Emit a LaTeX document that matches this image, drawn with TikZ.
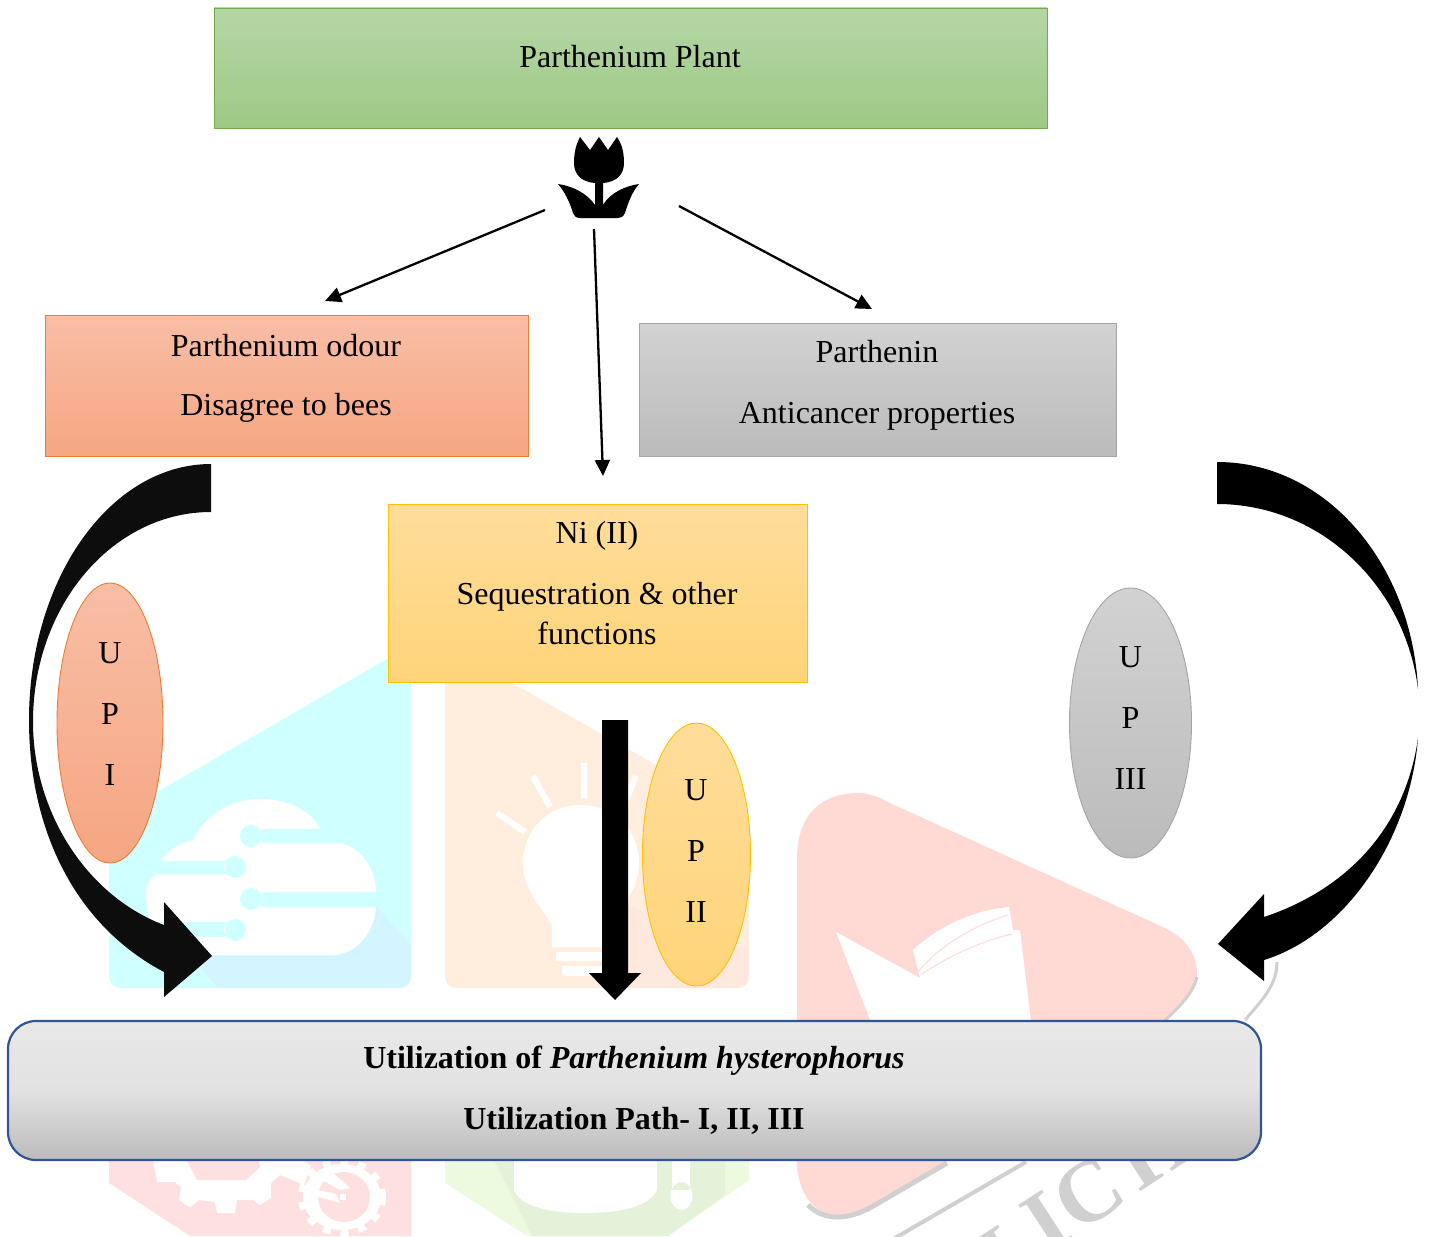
\documentclass[tikz,border=0pt]{standalone}
\usepackage{fontspec}
\setmainfont{Liberation Serif}
\usetikzlibrary{arrows.meta,shapes.geometric}
\definecolor{bbA}{HTML}{BBBBBB}
\definecolor{bbB}{HTML}{E2E2E2}
\definecolor{bbC}{HTML}{E8E8E8}
\pgfdeclareverticalshading{bottomboxshade}{100bp}{color(0bp)=(bbA); color(25bp)=(bbA); color(50bp)=(bbB); color(75bp)=(bbC); color(100bp)=(bbC)}
\definecolor{wmcyan}{HTML}{CFFFFF}
\definecolor{wmcyan2}{HTML}{D3F5FF}
\definecolor{wmorange}{HTML}{FFEEDD}
\definecolor{wmpink}{HTML}{FFE8DE}
\definecolor{wmred}{HTML}{FFE0E0}
\definecolor{wmgreen}{HTML}{EEFADF}
\definecolor{wmgreen2}{HTML}{E5F2DA}
\definecolor{wmtri}{HTML}{FFD9D3}
\definecolor{wmgray}{HTML}{D0D0D0}
\tikzset{
  lbl/.style={anchor=base,inner sep=0pt,font=\fontsize{32}{40}\selectfont},
  blbl/.style={lbl,font=\fontsize{32}{40}\selectfont\bfseries},
  seal/.style={rotate=33,inner sep=0pt,text=wmgray,font=\fontsize{88}{88}\selectfont\bfseries},
  boxnode/.style={anchor=north west,inner sep=0pt,outer sep=0pt,draw,line width=0.9pt},
  ovalnode/.style={ellipse,inner sep=0pt,outer sep=0pt,draw,line width=0.9pt},
  thinarrow/.style={line width=2.3pt,-{Triangle[length=16pt,width=15pt]}},
  bigarrow/.style={fill=black,draw=none},
}
\begin{document}
\begin{tikzpicture}[x=1pt,y=-1pt]
\useasboundingbox (0,0) rectangle (1431,1236);
% ---- faint background marks
\fill[wmcyan] (109,820) -- (411,645) -- (411,975) .. controls (411,984) and (406,988) .. (398,988) -- (122,988) .. controls (114,988) and (109,984) .. (109,975) -- cycle;
\fill[wmcyan2] (375,905) -- (411,945) -- (411,975) .. controls (411,984) and (406,988) .. (398,988) -- (218,988) -- (185,950) -- cycle;
\fill[white] (161,861) .. controls (168,850) and (180,843) .. (193,840) .. controls (205,815) and (230,799) .. (260,799) .. controls (290,799) and (312,812) .. (320,829) -- (340,843) .. controls (362,848) and (376,870) .. (376,892) -- (376,907) .. controls (374,935) and (355,955) .. (331,955) -- (175,955) .. controls (158,950) and (146,920) .. (146,893) .. controls (146,885) and (150,878) .. (157,874) -- cycle;
\fill[wmcyan] (262,829) rectangle (345,843) (251,836) circle (11);
\fill[wmcyan] (140,861) rectangle (226,874) (235,867) circle (11);
\fill[wmcyan] (262,892) rectangle (380,907) (251,899) circle (11);
\fill[wmcyan] (150,922) rectangle (226,937) (235,930) circle (11);
\fill[wmorange] (445,660) -- (472,660) -- (749,818) -- (749,975) .. controls (749,984) and (744,988) .. (736,988) -- (458,988) .. controls (450,988) and (445,984) .. (445,975) -- cycle;
\fill[wmpink] (628,905) -- (749,950) -- (749,975) .. controls (749,984) and (744,988) .. (736,988) -- (600,988) -- (600,960) -- cycle;
\fill[white] (581,805) .. controls (548,805) and (523,830) .. (523,863) .. controls (523,890) and (540,905) .. (552,925) -- (552,947) -- (610,947) -- (610,925) .. controls (622,905) and (639,890) .. (639,863) .. controls (639,830) and (614,805) .. (581,805) -- cycle;
\fill[white] (556,952) rectangle (625,961) (562,966) rectangle (620,976);
\draw[white,line width=6pt] (584,763) -- (584,798) (533,776) -- (550,807) (497,813) -- (525,832) (636,776) -- (626,800);
% lower left
\fill[wmred] (109,1150) -- (411,1150) -- (411,1236) -- (190,1236) -- (109,1183) -- cycle;
\fill[white] (152,1155) -- (157,1182) -- (175,1182) -- (181,1187) -- (179,1200) -- (190,1207) -- (199,1200) -- (215,1202) -- (217,1213) -- (235,1213) -- (237,1200) -- (253,1200) -- (260,1205) -- (271,1198) -- (271,1183) -- (280,1175) -- (304,1185) -- (315,1155) -- cycle;
\fill[wmred] (184,1155) -- (197,1180) -- (246,1180) -- (260,1167) -- (257,1155) -- cycle;
\fill[wmred] (298,1155) -- (318,1155) -- (318,1172) -- cycle;
\draw[white,line width=6pt,dash pattern=on 8pt off 10pt] (342,1197) ellipse (41 and 36);
\fill[white] (342,1197) ellipse (39 and 33);
\fill[wmred] (344,1197) ellipse (26 and 25);
\fill[white] (318,1190) -- (336,1194) -- (340,1203) -- (330,1200) -- (318,1197) -- cycle;
\fill[white] (322,1172) -- (332,1172) -- (350,1188) -- (340,1190) -- (322,1180) -- cycle;
\fill[white] (340,1194) rectangle (346,1200);
% lower middle
\fill[wmgreen] (445,1150) -- (749,1150) -- (749,1180) -- (668,1236) -- (527,1236) -- (445,1183) -- cycle;
\fill[wmgreen2] (494,1160) -- (725,1160) -- (725,1195) -- (668,1236) -- (532,1236) -- cycle;
\fill[white] (514,1160) -- (657,1160) -- (657,1190) .. controls (650,1205) and (625,1213) .. (585,1213) .. controls (545,1213) and (520,1205) .. (514,1190) -- cycle;
\fill[white] (672,1160) rectangle (690,1190) (681.5,1196) ellipse (11 and 14);
% play triangle
\fill[wmtri] (797,860) .. controls (797,810) and (825,793) .. (859,793) .. controls (870,793) and (880,798) .. (890,803) -- (1165,928) .. controls (1188,940) and (1197,955) .. (1197,975) .. controls (1197,990) and (1185,1005) .. (1165,1020) -- (897,1193) .. controls (875,1208) and (860,1216) .. (842,1216) .. controls (815,1216) and (797,1195) .. (797,1160) -- cycle;
\fill[white] (836,932) -- (920,978) -- (913,950) .. controls (940,925) and (975,910) .. (1009,907) -- (1013,930) -- (1020,930) -- (1032,1030) -- (874,1030) -- cycle;
\draw[wmtri,line width=1pt] (918,972) .. controls (940,945) and (975,925) .. (1008,915) (922,974) .. controls (950,955) and (985,940) .. (1012,934);
% grey seal pieces
\draw[wmgray,line width=3pt] (1197,977) .. controls (1194,990) and (1182,1005) .. (1165,1020);
\draw[wmgray,line width=5pt] (947,1163) -- (875,1205) .. controls (850,1220) and (825,1222) .. (808,1205);
\draw[wmgray,line width=3pt] (1277,962) .. controls (1277,985) and (1262,1000) .. (1245,1020);
\draw[wmgray,line width=4pt] (1026,1162) -- (895,1238);
\node[seal] (sealA) at (1002,1257) {I};
\node[seal] (sealB) at (1046,1222) {I};
\node[seal] (sealC) at (1088,1193) {C};
\node[seal] (sealD) at (1152,1150) {H};
% ---- big curved arrows
\path[bigarrow,fill={rgb,255:red,13;green,13;blue,13}] (211,464) .. controls (110,464) and (29,579) .. (29,720) .. controls (29,830) and (75,925) .. (164,972) -- (164,997) -- (212,956) -- (164,902) -- (164,925) .. controls (85,895) and (33,810) .. (33,722) .. controls (33,605) and (113,512) .. (211,512) -- cycle;
\path[bigarrow] (1217,462) .. controls (1327,462) and (1412,565) .. (1418,689) .. controls (1405,585) and (1320,504) .. (1217,504) -- cycle;
\path[bigarrow] (1418,738) .. controls (1410,840) and (1345,935) .. (1264,960) -- (1264,981) -- (1218,944) -- (1264,894) -- (1264,917) .. controls (1345,890) and (1405,830) .. (1418,738) -- cycle;
\path[bigarrow] (602,720) -- (628,720) -- (628,973) -- (641,973) -- (615,1000) -- (589,973) -- (602,973) -- cycle;
% ---- boxes
\node[boxnode,draw={rgb,255:red,112;green,173;blue,71},top color={rgb,255:red,181;green,214;blue,166},bottom color={rgb,255:red,157;green,201;blue,133},minimum width=833pt,minimum height=120pt] (plant) at (214,8) {};
\node[boxnode,draw={rgb,255:red,237;green,125;blue,49},top color={rgb,255:red,248;green,190;blue,166},bottom color={rgb,255:red,246;green,166;blue,130},minimum width=483pt,minimum height=141pt] (odour) at (45,315) {};
\node[boxnode,draw={rgb,255:red,165;green,165;blue,165},top color={rgb,255:red,210;green,210;blue,210},bottom color={rgb,255:red,187;green,187;blue,187},minimum width=477pt,minimum height=133pt] (parthenin) at (639,323) {};
\node[boxnode,draw={rgb,255:red,255;green,192;blue,0},top color={rgb,255:red,255;green,221;blue,154},bottom color={rgb,255:red,255;green,212;blue,121},minimum width=419pt,minimum height=178pt] (nickel) at (388,504) {};
\node[ovalnode,draw={rgb,255:red,237;green,125;blue,49},top color={rgb,255:red,248;green,190;blue,166},bottom color={rgb,255:red,246;green,166;blue,130},minimum width=106pt,minimum height=280pt] (up1) at (110,723) {};
\node[ovalnode,draw={rgb,255:red,255;green,192;blue,0},top color={rgb,255:red,255;green,221;blue,154},bottom color={rgb,255:red,255;green,212;blue,121},minimum width=108pt,minimum height=263pt] (up2) at (696.5,854.5) {};
\node[ovalnode,draw={rgb,255:red,165;green,165;blue,165},top color={rgb,255:red,210;green,210;blue,210},bottom color={rgb,255:red,187;green,187;blue,187},minimum width=122pt,minimum height=270pt] (up3) at (1130.5,723) {};
\node[anchor=north west,inner sep=0pt,outer sep=0pt,draw={rgb,255:red,47;green,85;blue,151},line width=2.2pt,rounded corners=28pt,shading=bottomboxshade,minimum width=1253pt,minimum height=139pt] (util) at (8,1021) {};
% ---- flower
\fill[black] (580,137) -- (590,150) -- (599,137) -- (608,150) -- (617,137) .. controls (621,143) and (624,150) .. (624,163) .. controls (624,174) and (617,182) .. (603,183) -- (603,205) .. controls (610,193) and (625,186) .. (639,184) .. controls (632,192) and (628,203) .. (625,213) .. controls (623,217) and (621,218) .. (618,218) -- (580,218) .. controls (576,218) and (574,216) .. (573,213) .. controls (570,203) and (565,192) .. (558,184) .. controls (572,186) and (587,193) .. (595,205) -- (595,183) .. controls (581,182) and (574,174) .. (574,163) .. controls (574,150) and (577,143) .. (580,137) -- cycle;
% ---- thin arrows
\coordinate (aLs) at (545,210); \coordinate (aLe) at (325,301);
\coordinate (aMs) at (594,229); \coordinate (aMe) at (603,476);
\coordinate (aRs) at (679,206); \coordinate (aRe) at (872,309);
\draw[thinarrow] (aLs) -- (aLe);
\draw[thinarrow] (aMs) -- (aMe);
\draw[thinarrow] (aRs) -- (aRe);
% ---- labels
\node[lbl] (t1) at (630,68) {Parthenium Plant};
\node[lbl] (t2) at (286,356) {Parthenium odour};
\node[lbl] (t3) at (286,415) {Disagree to bees};
\node[lbl] (t4) at (877,362) {Parthenin};
\node[lbl] (t5) at (877,423) {Anticancer properties};
\node[lbl] (t6) at (597,543) {Ni (II)};
\node[lbl] (t7) at (597,604) {Sequestration \& other};
\node[lbl] (t8) at (597,644) {functions};
\node[lbl] (u1a) at (110,663) {U};
\node[lbl] (u1b) at (110,724) {P};
\node[lbl] (u1c) at (110,785) {I};
\node[lbl] (u2a) at (696,800) {U};
\node[lbl] (u2b) at (696,861) {P};
\node[lbl] (u2c) at (696,922) {II};
\node[lbl] (u3a) at (1130.5,667) {U};
\node[lbl] (u3b) at (1130.5,728) {P};
\node[lbl] (u3c) at (1130.5,789) {III};
\node[blbl] (b1) at (634,1068) {Utilization of \textit{Parthenium hysterophorus}};
\node[blbl] (b2) at (634,1129) {Utilization Path- I, II, III};
\end{tikzpicture}
\end{document}
